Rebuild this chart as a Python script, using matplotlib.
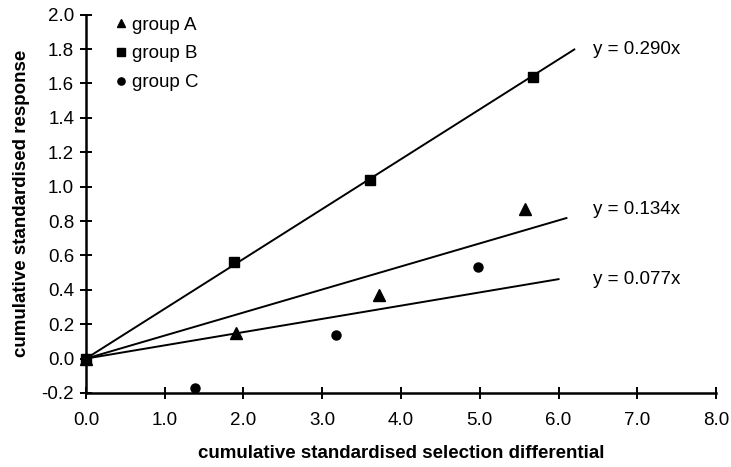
import numpy as np
import matplotlib.pyplot as plt

plt.rcParams['font.family'] = ['Liberation Sans', 'DejaVu Sans']

# data
a_x = [0.0, 1.90, 3.72, 5.58]
a_y = [0.0, 0.15, 0.37, 0.87]
b_x = [0.0, 1.88, 3.60, 5.68]
b_y = [0.0, 0.56, 1.04, 1.64]
c_x = [0.0, 1.38, 3.17, 4.98]
c_y = [0.0, -0.17, 0.14, 0.53]

slopes = [0.290, 0.134, 0.077]
line_ends = [6.2, 6.1, 6.0]
eq_labels = ['y = 0.290x', 'y = 0.134x', 'y = 0.077x']
eq_pos = [(6.44, 1.80), (6.44, 0.87), (6.44, 0.46)]

fig = plt.figure(figsize=(7.31, 4.67), dpi=100)
ax = fig.add_axes([0.1176, 0.1585, 0.862, 0.810])

for k, xe in zip(slopes, line_ends):
    xs = np.array([0.0, xe])
    ax.plot(xs, k * xs, color='black', lw=1.4)

ax.plot(a_x, a_y, '^', color='black', ms=8, ls='none', clip_on=False, label='group A')
ax.plot(b_x, b_y, 's', color='black', ms=6.5, ls='none', clip_on=False, label='group B')
ax.plot(c_x, c_y, 'o', color='black', ms=6.5, ls='none', clip_on=False, label='group C')

for t, (tx, ty) in zip(eq_labels, eq_pos):
    ax.text(tx, ty, t, fontsize=13.5, va='center', ha='left')

ax.set_xlim(0, 8)
ax.set_ylim(-0.2, 2.0)
ax.set_xticks(np.arange(0, 9, 1))
ax.set_xticklabels([f'{v:.1f}' for v in range(9)])
yt = np.round(np.arange(-0.2, 2.01, 0.2), 1)
ax.set_yticks(yt)
ax.set_yticklabels([f'{v:.1f}' for v in yt])

for s in ['top', 'right']:
    ax.spines[s].set_visible(False)
for s in ['left', 'bottom']:
    ax.spines[s].set_linewidth(1.8)
ax.tick_params(direction='inout', length=9, width=1.4, labelsize=13.5)
ax.tick_params(axis='x', pad=9)
ax.tick_params(axis='y', pad=4)

ax.set_xlabel('cumulative standardised selection differential', fontsize=13.5, fontweight='bold', labelpad=12)
ax.set_ylabel('cumulative standardised response', fontsize=13.5, fontweight='bold', labelpad=8)

ax.legend(loc='upper left', bbox_to_anchor=(0.014, 1.04), frameon=False, fontsize=13.5,
          handletextpad=0.1, labelspacing=0.62, handlelength=1.0, markerscale=0.8)

fig.savefig('out.png', dpi=100)
